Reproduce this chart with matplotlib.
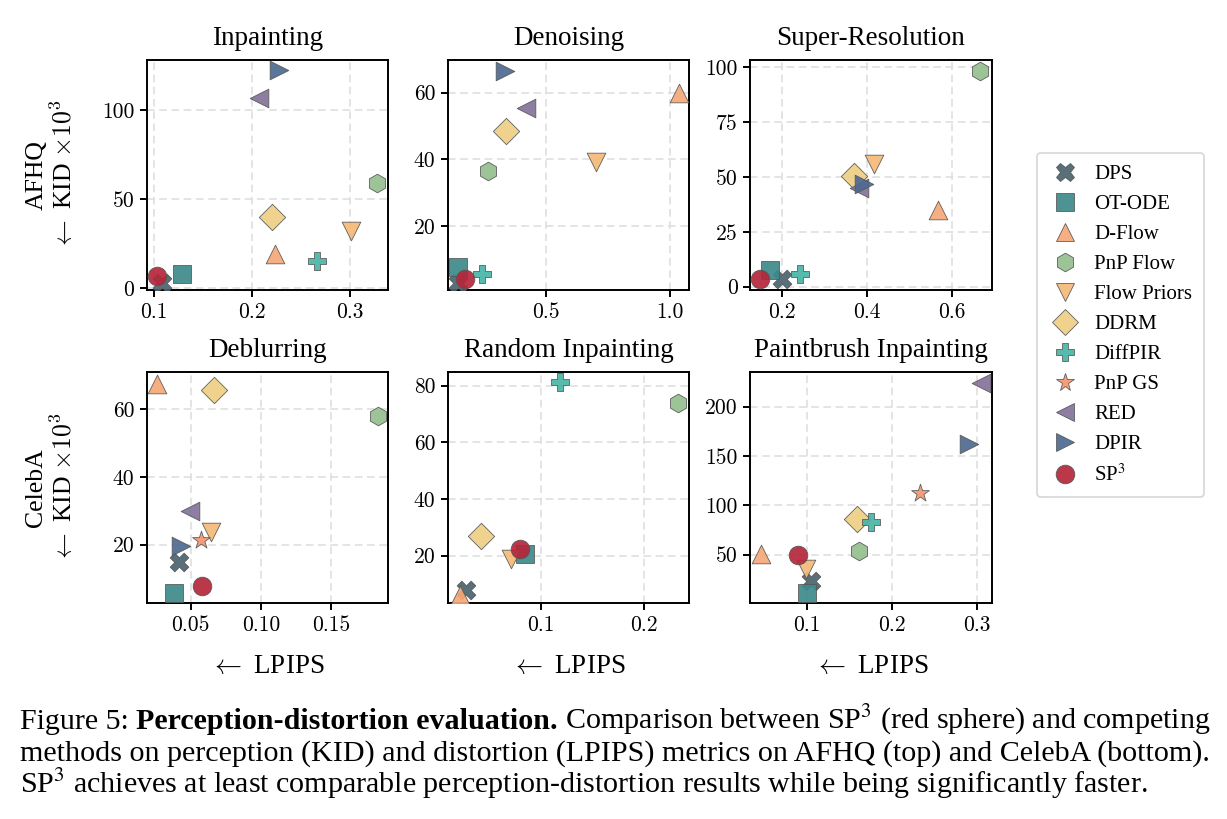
import numpy as np
import matplotlib
matplotlib.use("Agg")
import matplotlib.pyplot as plt
from matplotlib.lines import Line2D
from matplotlib.font_manager import FontProperties

nan = np.nan

methods = ["DPS", "OT-ODE", "D-Flow", "PnP Flow", "Flow Priors", "DDRM",
           "DiffPIR", "PnP GS", "RED", "DPIR", "SP$^3$"]
markers = ["X", "s", "^", "h", "v", "D", "P", "*", "<", ">", "o"]
colors = ["#4b6470", "#3e8a8a", "#f6a877", "#95bf8e", "#f5b977", "#edcf85",
          "#47b4a5", "#f59670", "#84749a", "#4e6a90", "#b5263a"]

tasks = ["Inpainting", "Denoising", "Super-Resolution",
         "Deblurring", "Random Inpainting", "Paintbrush Inpainting"]
datasets = ["AFHQ", "CelebA"]

# LPIPS (x) and KID x10^3 (y), in method order
inpainting_lpips = [0.108, 0.129, 0.224, 0.328, 0.301, 0.2205, 0.267, nan, 0.207, 0.228, 0.103]
inpainting_kid = [3.0, 8.2, 19.2, 59.0, 32.3, 39.9, 15.0, nan, 106.9, 122.2, 6.6]
denoising_lpips = [0.145, 0.145, 1.039, 0.263, 0.70, 0.337, 0.24, nan, 0.418, 0.335, 0.172]
denoising_kid = [2.8, 7.7, 59.8, 36.6, 39.3, 48.6, 5.6, nan, 55.5, 66.4, 4.0]
superres_lpips = [0.20, 0.1725, 0.568, 0.667, 0.416, 0.369, 0.243, nan, 0.381, 0.393, 0.149]
superres_kid = [3.3, 7.5, 34.9, 98.2, 55.8, 50.5, 5.7, nan, 45.2, 47.0, 3.4]
deblurring_lpips = [0.0415, 0.0383, 0.0263, 0.1833, 0.0642, 0.0666, nan, 0.0571, 0.0495, 0.0433, 0.058]
deblurring_kid = [14.8, 5.9, 67.4, 58.0, 23.9, 65.7, nan, 21.3, 29.9, 19.5, 7.9]
random_lpips = [0.0267, 0.0848, 0.0212, 0.2333, 0.0713, 0.0413, 0.1187, nan, nan, nan, 0.080]
random_kid = [7.8, 20.6, 6.2, 73.9, 18.7, 26.8, 81.2, nan, nan, nan, 22.4]
paintbrush_lpips = [0.104, 0.100, 0.045, 0.1607, 0.098, 0.1588, 0.1757, 0.2325, 0.305, 0.291, 0.089]
paintbrush_kid = [23.0, 11.3, 51.0, 53.7, 35.3, 86.1, 83.4, 112.1, 224.3, 162.3, 50.0]

lpips_all = [inpainting_lpips, denoising_lpips, superres_lpips,
             deblurring_lpips, random_lpips, paintbrush_lpips]
kid_all = [inpainting_kid, denoising_kid, superres_kid,
           deblurring_kid, random_kid, paintbrush_kid]

xticks_all = [[0.1, 0.2, 0.3], [0.5, 1.0], [0.2, 0.4, 0.6],
              [0.05, 0.10, 0.15], [0.1, 0.2], [0.1, 0.2, 0.3]]
xticklabels_all = [["0.1", "0.2", "0.3"], ["0.5", "1.0"], ["0.2", "0.4", "0.6"],
                   ["0.05", "0.10", "0.15"], ["0.1", "0.2"], ["0.1", "0.2", "0.3"]]
yticks_all = [[0, 50, 100], [20, 40, 60], [0, 25, 50, 75, 100],
              [20, 40, 60], [20, 40, 60, 80], [50, 100, 150, 200]]
xlims = [(0.093, 0.339), (0.103, 1.078), (0.125, 0.695),
         (0.019, 0.1905), (0.0096, 0.244), (0.0325, 0.318)]
ylims = [(-1, 128), (0.8, 69.8), (-1.5, 103.3),
         (2.8, 71.0), (3.3, 84.8), (1, 235)]

SERIF = "Liberation Serif"
W, H = 1227, 819
fig = plt.figure(figsize=(W / 100, H / 100), dpi=100)

lefts = [147, 448, 750]
widths = [241, 241, 242]
tops = [60, 372]
heights = [230, 231]

S = 180
for i in range(6):
    r, c = divmod(i, 3)
    ax = fig.add_axes([lefts[c] / W, 1 - (tops[r] + heights[r]) / H,
                       widths[c] / W, heights[r] / H])
    for k in range(len(methods)):
        ax.scatter([lpips_all[i][k]], [kid_all[i][k]], marker=markers[k], s=S,
                   color=colors[k], edgecolor="#555555", linewidth=0.6,
                   alpha=0.92, zorder=3 + k)
    ax.set_xlim(*xlims[i])
    ax.set_ylim(*ylims[i])
    ax.set_xticks(xticks_all[i], xticklabels_all[i], fontfamily="cmr10", fontsize=15.5)
    ax.set_yticks(yticks_all[i], [str(v) for v in yticks_all[i]], fontfamily="cmr10", fontsize=15.5)
    ax.grid(True, linestyle=(0, (5, 3)), color="#dddddd", linewidth=1.1, zorder=0)
    ax.set_axisbelow(True)
    for sp in ax.spines.values():
        sp.set_linewidth(1.4)
        sp.set_color("black")
    ax.tick_params(direction="out", length=5, width=1.4, pad=4)
    ax.set_title(tasks[i], fontfamily=SERIF, fontsize=19.5, pad=11)
    if c == 0:
        ax.set_ylabel(datasets[r] + "\n$\\leftarrow$ KID $\\times 10^3$",
                      fontfamily=SERIF, math_fontfamily="cm", fontsize=18.5,
                      linespacing=1.1)
        ax.yaxis.set_label_coords(-0.29, 0.5)
    if r == 1:
        ax.set_xlabel("$\\leftarrow$ LPIPS", fontfamily=SERIF,
                      math_fontfamily="cm", fontsize=19.5, labelpad=14)

handles = [Line2D([], [], marker=markers[k], linestyle="none", markersize=np.sqrt(S),
                  markerfacecolor=colors[k], markeredgecolor="#555555",
                  markeredgewidth=0.6, alpha=0.92) for k in range(len(methods))]
leg_font = FontProperties(family=SERIF, size=15, math_fontfamily="stix")
leg = fig.legend(handles, methods, loc="upper left",
                 bbox_to_anchor=(1037 / W, 1 - 153 / H), borderaxespad=0,
                 prop=leg_font, labelspacing=0.5, handletextpad=0.6,
                 borderpad=0.55, handlelength=1.6, frameon=True, fancybox=True)
leg.get_frame().set_edgecolor("#cccccc")
leg.get_frame().set_linewidth(1.2)

# Caption
renderer = fig.canvas.get_renderer()
cap_fs = 21.6
x0 = 20 / W


def put(x, y, s, weight="normal"):
    t = fig.text(x, y, s, fontfamily=SERIF, fontsize=cap_fs, fontweight=weight,
                 math_fontfamily="stix", ha="left", va="baseline")
    bb = t.get_window_extent(renderer=renderer)
    return x + bb.width / W


y1 = 1 - 729 / H
y2 = 1 - 761 / H
y3 = 1 - 793 / H
x = put(x0, y1, "Figure 5: ")
x = put(x, y1, "Perception-distortion evaluation.", weight="bold")
put(x, y1, " Comparison between SP$^3$ (red sphere) and competing")
put(x0, y2, "methods on perception (KID) and distortion (LPIPS) metrics on AFHQ (top) and CelebA (bottom).")
put(x0, y3, "SP$^3$ achieves at least comparable perception-distortion results while being significantly faster.")

fig.savefig("out.png", dpi=100)
